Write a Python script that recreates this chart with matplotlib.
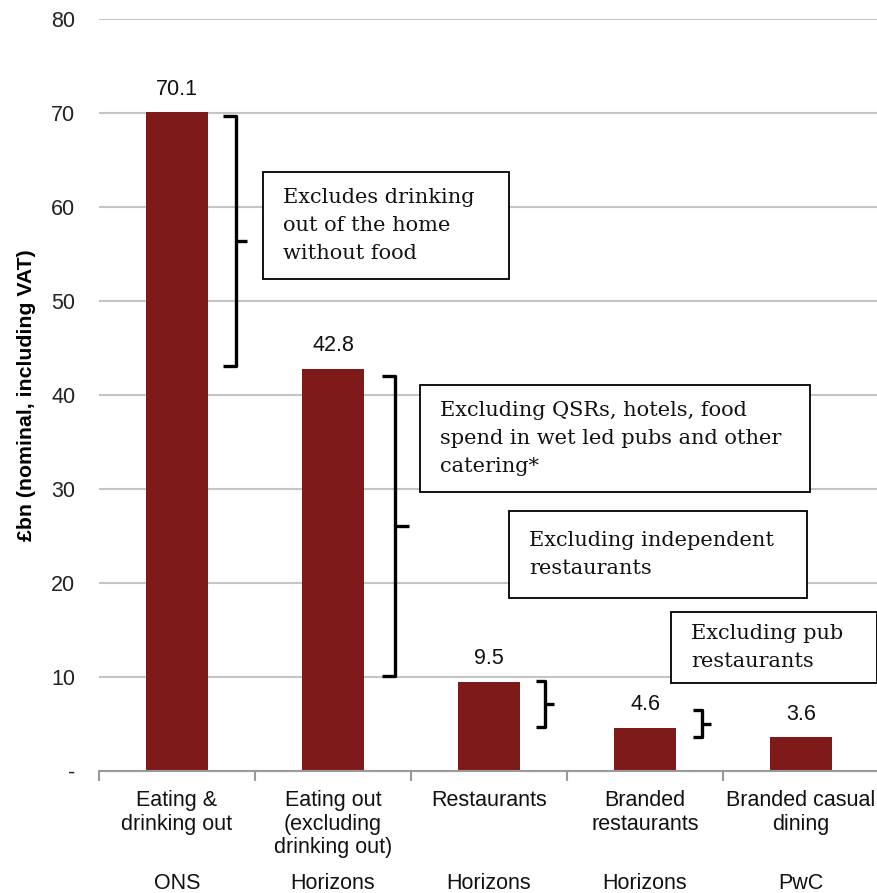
import numpy as np
import matplotlib
matplotlib.use("Agg")
from matplotlib import pyplot as plt
from matplotlib.patches import Rectangle

# Market size estimates, £bn
categories = ["Eating &\ndrinking out", "Eating out\n(excluding\ndrinking out)",
              "Restaurants", "Branded\nrestaurants", "Branded casual\ndining"]
sources = ["ONS", "Horizons", "Horizons", "Horizons", "PwC"]
values = [70.1, 42.8, 9.5, 4.6, 3.6]

# Brackets between successive bars: (top, bottom) in £bn
bracket_spans = [(69.7, 43.1), (42.0, 10.1), (9.6, 4.7), (6.5, 3.6)]

# Explanatory notes next to the brackets
notes = [
    "Excludes drinking\nout of the home\nwithout food",
    "Excluding QSRs, hotels, food\nspend in wet led pubs and other\ncatering*",
    "Excluding independent\nrestaurants",
    "Excluding pub\nrestaurants",
]

BAR_COLOR = "#7f1a1a"
GRID_COLOR = "#c4c4c4"
AXIS_COLOR = "#9a9a9a"
SANS = "Liberation Sans"
SERIF = "DejaVu Serif"

fig = plt.figure(figsize=(8.77, 8.93), dpi=100)
ax = fig.add_axes([0.1129, 0.1366, 0.8894, 0.8421])

x = np.arange(len(values))
bars = ax.bar(x, values, width=0.4, color=BAR_COLOR, zorder=3)

ax.set_xlim(-0.5, len(values) - 0.5)
ax.set_ylim(0, 80)
ax.set_yticks(np.arange(0, 81, 10))
ax.set_yticklabels(["-"] + [str(v) for v in range(10, 81, 10)],
                   fontsize=15.5, family=SANS, color="#222222")
ax.tick_params(axis="y", length=0, pad=17)
ax.yaxis.grid(True, color=GRID_COLOR, linewidth=1.5, zorder=0)
ax.set_axisbelow(True)

# category ticks sit on the boundaries between bars
ax.set_xticks(x)
ax.set_xticklabels(categories, fontsize=15.5, family=SANS, color="#111111",
                   linespacing=1.15, va="top")
ax.tick_params(axis="x", length=0, pad=14)
ax.set_xticks(np.arange(-0.5, len(values), 1.0), minor=True)
ax.tick_params(axis="x", which="minor", length=7, width=1.5, color=AXIS_COLOR)

for side in ["left", "right", "top"]:
    ax.spines[side].set_visible(False)
ax.spines["bottom"].set_color(AXIS_COLOR)
ax.spines["bottom"].set_linewidth(1.5)
ax.spines["bottom"].set_zorder(4)

ax.set_ylabel("£bn (nominal, including VAT)", fontsize=15.3, fontweight="bold",
              family=SANS, labelpad=11)

# value labels above the bars
for rect, v in zip(bars, values):
    ax.annotate(f"{v:.1f}", (rect.get_x() + rect.get_width() / 2, v),
                xytext=(0, 9), textcoords="offset points",
                ha="center", va="bottom", fontsize=15.5, family=SANS,
                color="#111111")

# source row under the category labels
trans = ax.get_xaxis_transform()
for xi, src in zip(x, sources):
    ax.text(xi, -0.150, src, transform=trans, ha="center", va="center",
            fontsize=15.5, family=SANS, color="#111111", clip_on=False)


def draw_bracket(ax, xv, top, bottom, hook, tip):
    mid = (top + bottom) / 2
    kw = dict(color="black", linewidth=2.4, solid_capstyle="butt", zorder=5)
    ax.plot([xv - hook, xv, xv, xv - hook], [top, top, bottom, bottom], **kw)
    ax.plot([xv, xv + tip], [mid, mid], **kw)


bracket_x = [0.378, 1.397, 2.359, 3.365]
bracket_hook = [0.085, 0.08, 0.055, 0.055]
bracket_tip = [0.07, 0.09, 0.06, 0.06]
for xv, (top, bottom), hk, tp in zip(bracket_x, bracket_spans, bracket_hook, bracket_tip):
    draw_bracket(ax, xv, top, bottom, hk, tp)

# note boxes: (left, right, top, bottom) in data units
note_boxes = [(0.551, 2.128, 63.7, 52.3),
              (1.558, 4.058, 41.06, 29.68),
              (2.128, 4.038, 27.66, 18.40),
              (3.167, 4.49, 16.91, 9.36)]
for (x0, x1, y0, y1), txt in zip(note_boxes, notes):
    ax.add_patch(Rectangle((x0, y1), x1 - x0, y0 - y1, facecolor="white",
                           edgecolor="black", linewidth=1.3, zorder=6,
                           clip_on=False))
    ax.text(x0 + 0.128, (y0 + y1) / 2, txt, ha="left", va="center",
            fontsize=15, family=SERIF, color="#111111", linespacing=1.6,
            zorder=7)

fig.savefig("out.png", dpi=100)
